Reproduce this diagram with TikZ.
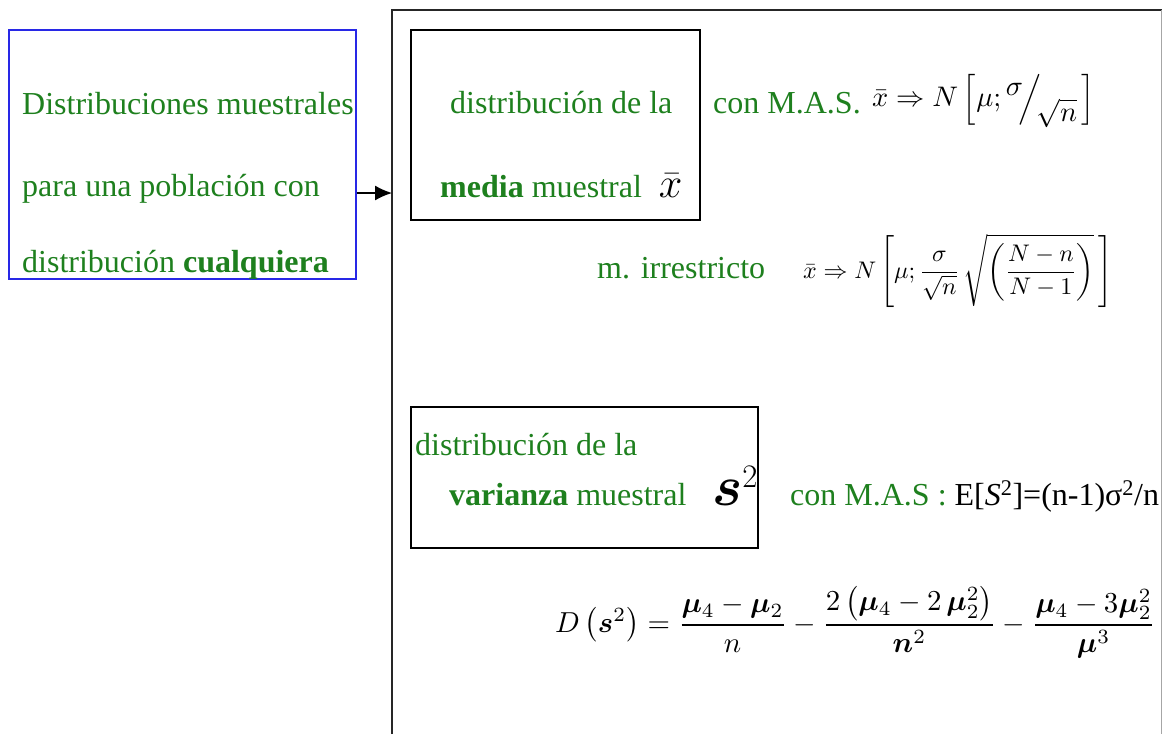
\documentclass[tikz,border=0pt]{standalone}
\usepackage{amsmath,amssymb,bm}
\usepackage{graphicx}
\usepackage{fontspec}
\setmainfont{Liberation Serif}
\usetikzlibrary{arrows.meta}
\definecolor{tgreen}{RGB}{30,128,30}
\definecolor{fblue}{RGB}{40,40,230}
\tikzset{
  txt/.style={font=\fontsize{32}{36}\selectfont, text=tgreen, inner sep=0pt, anchor=base west},
  blk/.style={text=black, inner sep=0pt},
  boxline/.style={draw=black, line width=1.6pt, inner sep=0pt},
}
\begin{document}
\begin{tikzpicture}[x=1pt,y=-1pt]
\useasboundingbox (0,0) rectangle (1162,734);
\fill[white] (0,0) rectangle (1162,734);

% left blue box
\node[draw=fblue, line width=1.4pt, minimum width=347pt, minimum height=249pt, inner sep=0pt] (src) at (182.5,154.5) {};
\node[txt] (l1) at (22,114) {Distribuciones muestrales};
\node[txt] (l2) at (22,196) {para una población con};
\node[txt] (l3) at (22,272) {distribución \textbf{cualquiera}};

% big frame (left and top, faint right)
\draw[line width=2.2pt, black!85] (392,734) -- (392,10) -- (1162,10);
\draw[line width=0.8pt, black!35] (1161,10) -- (1161,734);
\coordinate (fin) at (392,193);
\draw[line width=1.3pt, -{Latex[length=17pt,width=15pt]}] (src.east |- fin) -- (fin);

% box 1: media
\node[boxline, minimum width=289pt, minimum height=190pt] (b1) at (555.5,125) {};
\node[txt] (m1) at (450,113) {distribución de la};
\node[txt] (m2) at (440,197) {\textbf{media} muestral\; \textcolor{black}{\scalebox{1.7}{$\bar{x}$}}};

\node[txt] (c1) at (713,113) {con M.A.S.};
\node[blk, anchor=west] (f1) at (872,101) {\resizebox{223pt}{!}{$\bar{x}\Rightarrow N\left[\mu;\raisebox{0.9ex}{$\sigma$}\!\Big/\!\raisebox{-1.1ex}{$\sqrt{n}$}\,\right]$}};

\node[txt] (c2) at (597,278) {m. irrestricto};
\node[blk, anchor=west] (f2) at (803,271) {\resizebox{309pt}{!}{$\bar{x}\Rightarrow N\left[\mu;\dfrac{\sigma}{\sqrt{n}}\,\sqrt{\left(\dfrac{N-n}{N-1}\right)}\,\right]$}};

% box 2: varianza
\node[boxline, minimum width=347pt, minimum height=141pt] (b2) at (584.5,477.5) {};
\node[txt] (v1) at (415,455) {distribución de la};
\node[txt] (v2) at (449,505) {\textbf{varianza} muestral\;\; \textcolor{black}{\scalebox{1.9}{$\scalebox{1.2}{$\bm{s}$}^{\scriptscriptstyle 2}$}}};

\node[txt] (c3) at (790,505) {con M.A.S :\ \textcolor{black}{E[\textit{S}\textsuperscript{2}]=(n-1)σ\textsuperscript{2}/n}};

\node[blk, anchor=west] (f3) at (555,622) {\resizebox{600pt}{!}{$D\left(\bm{s}^{2}\right)=\dfrac{\bm{\mu}_4-\bm{\mu}_2}{n}-\dfrac{2\left(\bm{\mu}_4-2\,\bm{\mu}_2^{2}\right)}{\bm{n}^{2}}-\dfrac{\bm{\mu}_4-3\bm{\mu}_2^{2}}{\bm{\mu}^{3}}$}};
\end{tikzpicture}
\end{document}
